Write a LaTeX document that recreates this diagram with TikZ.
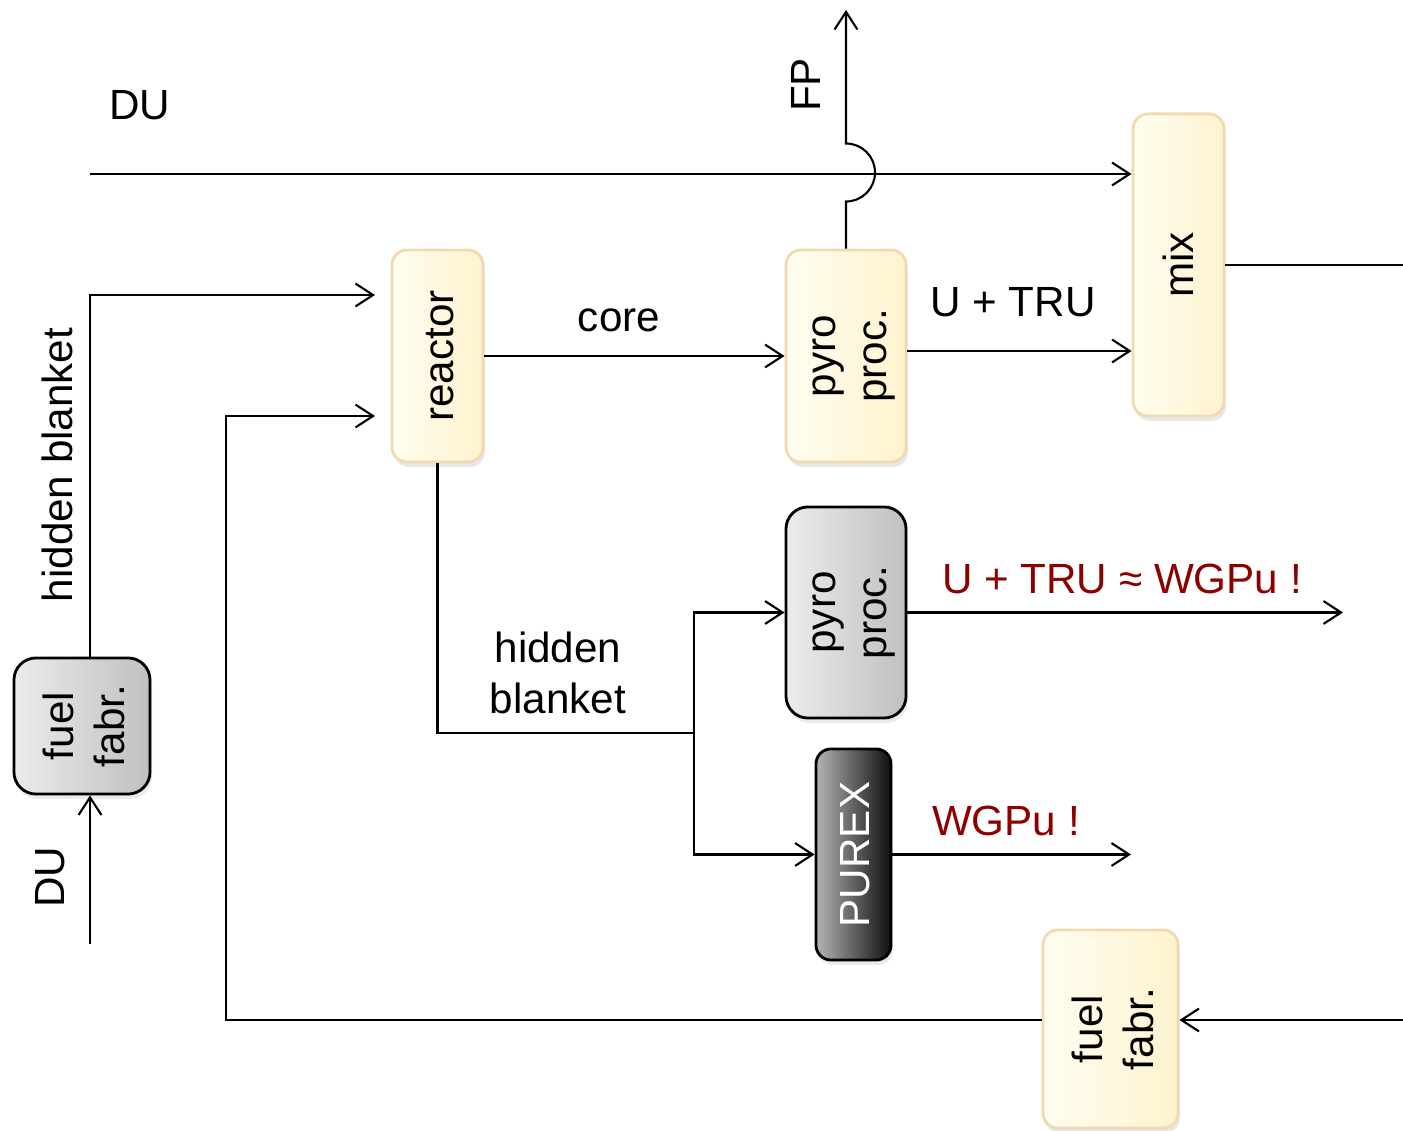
\documentclass[tikz,border=0pt]{standalone}
\usepackage{fontspec}
\setmainfont{Liberation Sans}
\usetikzlibrary{arrows.meta,shadows,calc}
\definecolor{ybord}{RGB}{240,218,175}
\definecolor{yleft}{RGB}{255,253,240}
\definecolor{yright}{RGB}{255,243,207}
\definecolor{gleft}{RGB}{236,236,236}
\definecolor{gright}{RGB}{192,192,192}
\definecolor{dleft}{RGB}{180,180,180}
\definecolor{dright}{RGB}{15,15,15}
\definecolor{wred}{RGB}{140,0,0}
\begin{document}
\begin{tikzpicture}[x=0.01cm,y=-0.01cm,
  txt/.style={font=\fontsize{12}{14.5}\selectfont, inner sep=0pt, align=center},
  vtxt/.style={txt, rotate=90},
  ybox/.style={draw=ybord, line width=0.8pt, rounded corners=0.15cm, left color=yleft, right color=yright,
    drop shadow={shadow xshift=0.02cm, shadow yshift=-0.05cm, opacity=0.18}},
  gbox/.style={draw=black, line width=0.8pt, rounded corners=0.22cm, left color=gleft, right color=gright,
    drop shadow={shadow xshift=0.02cm, shadow yshift=-0.05cm, opacity=0.15}},
  dbox/.style={draw=black, line width=0.8pt, rounded corners=0.15cm, left color=dleft, right color=dright,
    drop shadow={shadow xshift=0.02cm, shadow yshift=-0.05cm, opacity=0.15}},
  flow/.style={line width=0.6pt, -{Straight Barb[length=5pt,width=6.5pt,line width=0.6pt]}},
  plain/.style={line width=0.6pt}
]
\useasboundingbox (0,0) rectangle (1403,1131);

% boxes
\node[ybox, minimum width=0.91cm, minimum height=2.12cm] (reactor) at (437.5,356) {};
\node[vtxt] (reactorT) at ([xshift=0.03cm]reactor.center) {reactor};
\node[ybox, minimum width=1.20cm, minimum height=2.12cm] (pyroA) at (846,356) {};
\node[vtxt] (pyroAT) at ([xshift=0.08cm]pyroA.center) {pyro\\proc.};
\node[ybox, minimum width=0.91cm, minimum height=3.02cm] (mix) at (1178.5,265) {};
\node[vtxt] (mixT) at (mix) {mix};
\node[gbox, minimum width=1.20cm, minimum height=2.11cm] (pyroB) at (846,612.5) {};
\node[vtxt] (pyroBT) at ([xshift=0.08cm]pyroB.center) {pyro\\proc.};
\node[dbox, minimum width=0.75cm, minimum height=2.11cm] (purex) at (853.5,854.5) {};
\node[vtxt, text=white] (purexT) at ([xshift=0.02cm]purex.center) {PUREX};
\node[gbox, minimum width=1.36cm, minimum height=1.36cm] (fuelL) at (82,726) {};
\node[vtxt] (fuelLT) at ([xshift=0.02cm]fuelL.center) {fuel\\fabr.};
\node[ybox, minimum width=1.35cm, minimum height=1.98cm] (fuelR) at (1110.5,1029) {};
\node[vtxt] (fuelRT) at ([xshift=0.02cm]fuelR.center) {fuel\\fabr.};

% coordinates
\coordinate (du1) at (90,174);
\coordinate (du2) at (90,944);
\coordinate (hb1) at (90,295);
\coordinate (hbEnd) at (392,295);
\coordinate (ret1) at (226,1020);
\coordinate (retEnd) at (392,416);
\coordinate (ut) at (906,351);
\coordinate (mixOut) at (1403,265);
\coordinate (fuelIn) at (1403,1020);
\coordinate (hb) at (694,733);
\coordinate (wgEnd) at (1343,612.5);
\coordinate (puEnd) at (1131,854.5);
\coordinate (fpEnd) at (846,10);

% connectors
\draw[flow] (du1) -- (du1 -| mix.west);
\draw[flow] (pyroA.north) -- ++(0,-47) arc[start angle=-90, end angle=90, radius=0.29cm] -- (fpEnd);
\draw[flow, shorten >=0.17cm] (fuelL.north -| hb1) -- (hb1) -- (hbEnd);
\draw[flow] (du2) -- (du2 |- fuelL.south);
\draw[flow] (reactor.east) -- (reactor.east -| pyroA.west);
\draw[flow, shorten >=0.17cm] (fuelR.west |- ret1) -- (ret1) |- (retEnd);
\draw[flow] (pyroA.east |- ut) -- (mix.west |- ut);
\draw[plain] (mix.east) -- (mixOut);
\draw[flow] (fuelIn) -- (fuelR.east |- fuelIn);
\draw[plain] (reactor.south) |- (hb);
\draw[flow] (hb) |- (pyroB.west);
\draw[flow] (hb) |- (purex.west);
\draw[flow] (pyroB.east) -- (wgEnd);
\draw[flow] (purex.east) -- (puEnd);

% labels
\node[txt] (lDU1) at (140,105) {DU};
\node[vtxt] (lFP) at (806,85) {FP};
\node[vtxt] (lHB1) at (57,465) {hidden blanket};
\node[vtxt] (lDU2) at (50,877) {DU};
\node[txt] (lcore) at (619,320) {core};
\node[txt] (lUT) at (1013,302) {U + TRU};
\node[txt] (lHB2) at (558,673) {hidden\\blanket};
\node[txt, text=wred] (lWG1) at (1122,579) {U + TRU ≈ WGPu !};
\node[txt, text=wred] (lWG2) at (1006,821) {WGPu !};
\end{tikzpicture}
\end{document}
